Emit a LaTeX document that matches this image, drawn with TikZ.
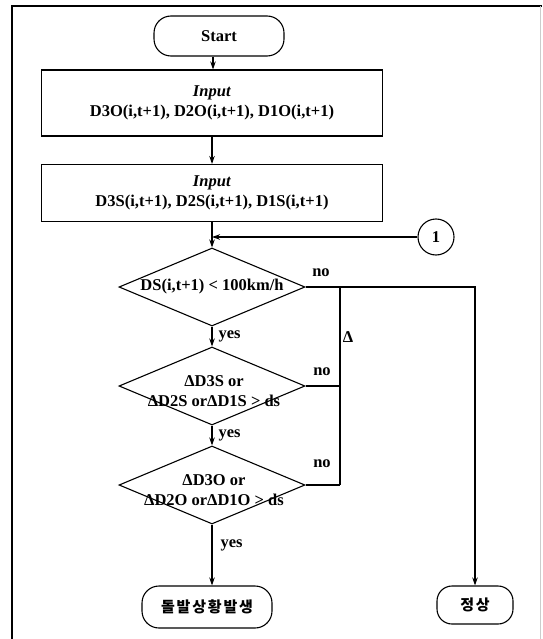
\documentclass[tikz,border=0pt]{standalone}
\usepackage{fontspec}
\setmainfont{Liberation Serif}
\newfontfamily\krfont[LetterSpace=12]{Noto Sans CJK KR}
\usetikzlibrary{arrows.meta,shapes.geometric}
\begin{document}
\begin{tikzpicture}[x=1pt,y=-1pt,
  every node/.style={font=\bfseries\fontsize{16.5}{20}\selectfont},
  term/.style={draw, rounded corners=17pt, line width=1.1pt, inner sep=0},
  procbox/.style={draw, line width=1.1pt, minimum width=341, align=center, inner sep=0},
  dec/.style={draw, diamond, minimum width=186, minimum height=78, inner sep=0, line width=1.1pt},
  dectext/.style={align=center, inner sep=0},
  arr/.style={-{Stealth[length=8pt,width=5.5pt]}, line width=1.1pt},
  ln/.style={line width=1.1pt},
  lbl/.style={inner sep=0},
  krtext/.style={font=\krfont\bfseries\fontsize{15}{18}\selectfont}
]
\useasboundingbox (0,0) rectangle (542,639);
% frame
\draw[ln] (12,639) -- (12,6) -- (542,6);
\draw[gray!40, line width=0.8pt] (540.5,6) -- (540.5,639);

% nodes
\node[term, minimum width=130, minimum height=40] (start) at (219,36) {Start};
\node[procbox, minimum height=66] (in1) at (212,103) {\textit{Input}\\D3O(i,t+1), D2O(i,t+1), D1O(i,t+1)};
\node[procbox, minimum height=57] (in2) at (212,193) {\textit{Input}\\D3S(i,t+1), D2S(i,t+1), D1S(i,t+1)};
\node[draw, circle, line width=1.1pt, minimum size=36, inner sep=0] (c1) at (436,237) {1};

\node[dec] (d1) at (212,287) {};
\node[dectext] (t1) at (d1.center) {DS(i,t+1) < 100km/h};
\node[dec] (d2) at (212,386) {};
\node[dectext] (t2) at (214,391) {ΔD3S or\\ΔD2S orΔD1S > ds};
\node[dec] (d3) at (212,485) {};
\node[dectext] (t3) at (214,490) {ΔD3O or\\ΔD2O orΔD1O > ds};

\node[term, krtext, minimum width=130, minimum height=42] (e1) at (207,607) {돌발상황발생};
\node[term, krtext, minimum width=76, minimum height=38, rounded corners=15pt] (e2) at (475,605) {정상};

% junctions
\coordinate (j0) at (c1.west -| in2.south);
\coordinate (j1) at (340,287);
\coordinate (j3) at (d3.east -| j1);

% connectors
\draw[arr] (start.south -| 213,0) -- (in1.north -| 213,0);
\draw[arr] (in1.south) -- (in2.north);
\draw[ln] (in2.south) -- (j0);
\draw[arr] (j0) -- (d1.north);
\draw[arr] (c1.west) -- (j0);
\draw[arr] (d1.south) -- node[lbl, right=6pt] {yes} (d2.north);
\draw[arr] (d2.south) -- node[lbl, right=6pt] {yes} (d3.north);
\draw[arr] (d3.south) -- node[lbl, right=8pt, pos=0.35] {yes} (d3.south |- e1.north);
\draw[arr] (d1.east) -| (e2.north);
\draw[ln] (j1) -- (j3);
\draw[ln] (d2.east) -- (d2.east -| j1);
\draw[ln] (d3.east) -- (j3);

% labels
\node[lbl] (no1) at (321,273) {no};
\node[lbl] (no2) at (322,372) {no};
\node[lbl] (no3) at (322,464) {no};
\node[lbl] (delta) at (348,337) {Δ};
\end{tikzpicture}
\end{document}
